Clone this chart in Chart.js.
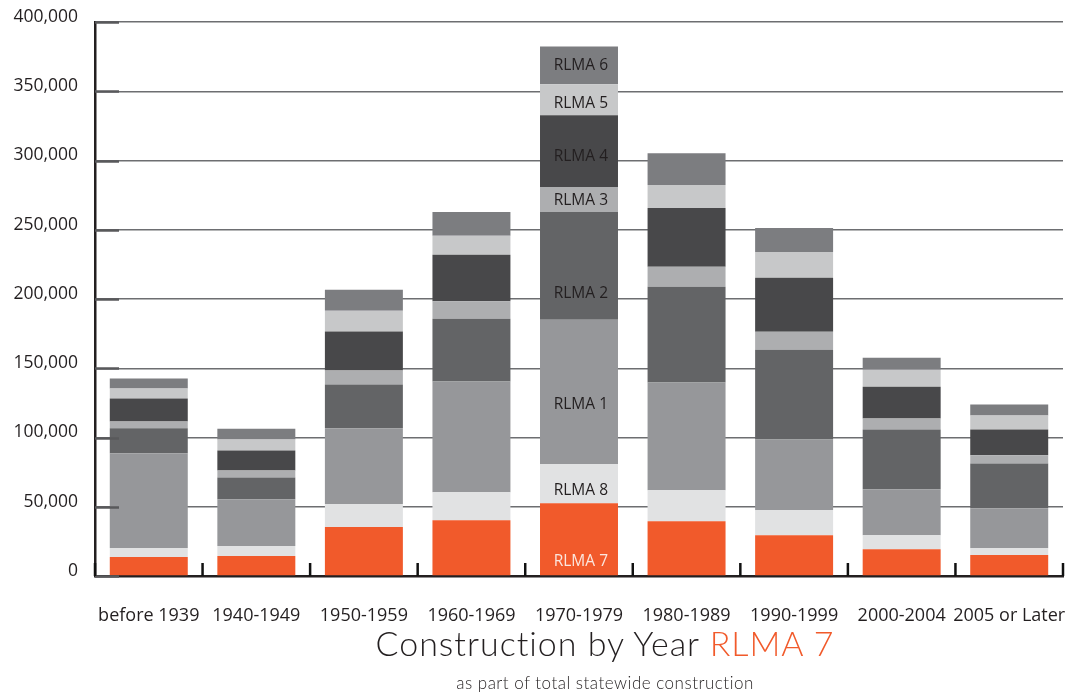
<!DOCTYPE html>
<html>
<head>
<meta charset="utf-8">
<title>Construction by Year RLMA 7</title>
<script src="https://cdn.jsdelivr.net/npm/chart.js@4.4.1/dist/chart.umd.min.js"></script>
<style>
  html, body { margin: 0; padding: 0; background: #fff; overflow: hidden; }
  #wrap { position: relative; width: 1066px; height: 696px; overflow: hidden; }
  #chart { position: absolute; left: 0; top: 0; }
  .title {
    position: absolute; left: 0; width: 1210px; text-align: center;
    font-family: Lato, "Open Sans", sans-serif; font-weight: 300;
    color: #231f20; white-space: nowrap; line-height: 1;
  }
  #mainTitle { top: 626px; font-size: 34px; letter-spacing: 1px; }
  #mainTitle span { color: #f15a2b; }
  #subTitle { top: 674px; font-size: 17px; letter-spacing: 0.5px; }
</style>
</head>
<body>
<div id="wrap">
  <canvas id="chart" width="1066" height="696"></canvas>
  <div class="title" id="mainTitle">Construction by Year <span>RLMA 7</span></div>
  <div class="title" id="subTitle">as part of total statewide construction</div>
</div>
<script>
// housing units built, by period, stacked by region (RLMA 7 at the base)
const years = ['before 1939', '1940-1949', '1950-1959', '1960-1969', '1970-1979',
               '1980-1989', '1990-1999', '2000-2004', '2005 or Later'];

const rlma7 = [13700, 14400, 35300, 40300, 52600, 39600, 29500, 19400, 15100];
const rlma8 = [6500, 7200, 16600, 20200, 28100, 22300, 18000, 10100, 5000];
const rlma1 = [68400, 33800, 54700, 79900, 104400, 77800, 51100, 33100, 28800];
const rlma2 = [18000, 15800, 31700, 45400, 77800, 69100, 64800, 43200, 32400];
const rlma3 = [5000, 5000, 10100, 12500, 18000, 14400, 13000, 7900, 5800];
const rlma4 = [16600, 14400, 28100, 33600, 51800, 42500, 38900, 23000, 18700];
const rlma5 = [7200, 7900, 15100, 13700, 22300, 16600, 18700, 12200, 10100];
const rlma6 = [7200, 7900, 15100, 17300, 27400, 23000, 17300, 8600, 7900];

const yTicks = [0, 50000, 100000, 150000, 200000, 250000, 300000, 350000, 400000];

// which bar carries the in-bar series names
const labelledBar = 4;

const series = [
  { label: 'RLMA 7', data: rlma7, color: '#f15a2b', text: '#fbe6de', pos: 0.81 },
  { label: 'RLMA 8', data: rlma8, color: '#e1e2e3', text: '#231f20', pos: 0.67 },
  { label: 'RLMA 1', data: rlma1, color: '#96979a', text: '#231f20', pos: 0.59 },
  { label: 'RLMA 2', data: rlma2, color: '#636466', text: '#231f20', pos: 0.76 },
  { label: 'RLMA 3', data: rlma3, color: '#adaeb0', text: '#231f20', pos: 0.56 },
  { label: 'RLMA 4', data: rlma4, color: '#48484a', text: '#231f20', pos: 0.57 },
  { label: 'RLMA 5', data: rlma5, color: '#c7c8c9', text: '#231f20', pos: 0.61 },
  { label: 'RLMA 6', data: rlma6, color: '#7c7d80', text: '#231f20', pos: 0.50 }
];

// series names written inside one bar, right aligned
const segmentLabels = {
  id: 'segmentLabels',
  afterDatasetsDraw(chart) {
    const ctx = chart.ctx;
    ctx.save();
    ctx.font = '15.5px "Open Sans"';
    ctx.textAlign = 'right';
    ctx.textBaseline = 'middle';
    series.forEach((s, i) => {
      const bar = chart.getDatasetMeta(i).data[labelledBar];
      const top = Math.min(bar.y, bar.base);
      const h = Math.abs(bar.base - bar.y);
      ctx.fillStyle = s.text;
      ctx.fillText(s.label, bar.x + bar.width / 2 - 10, top + h * s.pos);
    });
    ctx.restore();
  }
};

// short tick marks pointing into the plot on both axes
const axisMarks = {
  id: 'axisMarks',
  afterDraw(chart) {
    const { ctx, scales: { x, y } } = chart;
    ctx.save();
    ctx.strokeStyle = '#58595b';
    ctx.lineWidth = 2.5;
    yTicks.forEach(v => {
      const py = Math.round(y.getPixelForValue(v)) + 0.5;
      ctx.beginPath();
      ctx.moveTo(x.left, py);
      ctx.lineTo(x.left + 24, py);
      ctx.stroke();
    });
    ctx.strokeStyle = '#111';
    for (let i = 0; i <= years.length; i++) {
      const px = x.getPixelForValue(i - 0.5);
      ctx.beginPath();
      ctx.moveTo(px, y.bottom);
      ctx.lineTo(px, y.bottom - 13);
      ctx.stroke();
    }
    ctx.restore();
  }
};

new Chart(document.getElementById('chart'), {
  type: 'bar',
  data: {
    labels: years,
    datasets: series.map(s => ({
      label: s.label,
      data: s.data,
      backgroundColor: s.color,
      borderWidth: 0,
      barPercentage: 0.725,
      categoryPercentage: 1
    }))
  },
  options: {
    responsive: false,
    animation: false,
    layout: { padding: { top: 22, right: 3, bottom: 73, left: 0 } },
    plugins: {
      legend: { display: false },
      tooltip: { enabled: false }
    },
    scales: {
      x: {
        stacked: true,
        z: 1,
        afterFit(scale) {
          scale.height = 47;
          scale.paddingLeft = 0;
          scale.paddingRight = 0;
        },
        grid: { display: true, drawOnChartArea: false, drawTicks: false, color: 'rgba(0,0,0,0)' },
        border: { display: true, color: '#231f20', width: 2.5 },
        ticks: {
          padding: 29,
          color: '#231f20',
          font: { family: '"Open Sans"', size: 18 },
          maxRotation: 0,
          autoSkip: false
        }
      },
      y: {
        stacked: true,
        z: 1,
        min: 0,
        max: 400000,
        afterFit(scale) {
          scale.width = 95;
          scale.paddingTop = 0;
          scale.paddingBottom = 0;
        },
        afterBuildTicks(scale) { scale.ticks = yTicks.map(v => ({ value: v })); },
        grid: {
          drawTicks: false,
          lineWidth: 1.5,
          color: c => (c.tick && c.tick.value === 0 ? 'rgba(0,0,0,0)' : '#6d6e71')
        },
        border: { display: true, color: '#231f20', width: 2.5 },
        ticks: {
          padding: 17,
          labelOffset: -5,
          color: '#231f20',
          font: { family: '"Open Sans"', size: 17.5 },
          callback: v => v.toLocaleString('en-US')
        }
      }
    }
  },
  plugins: [segmentLabels, axisMarks]
});
</script>
</body>
</html>
